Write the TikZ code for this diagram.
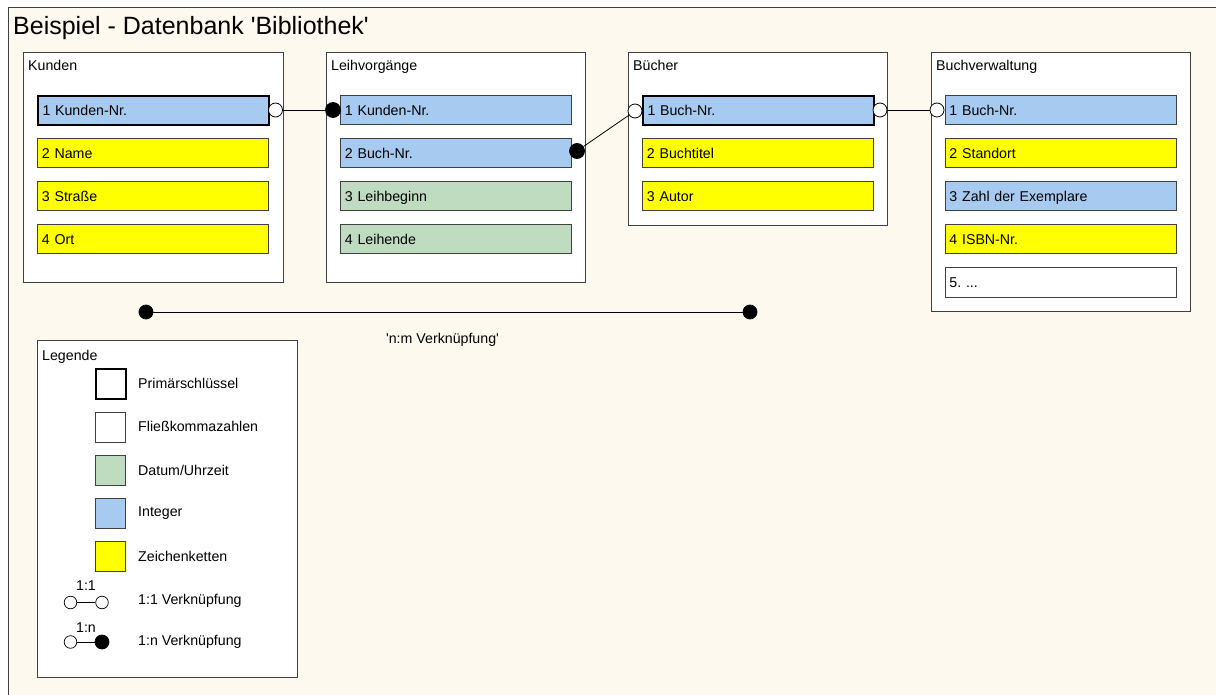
\documentclass[tikz,border=0pt]{standalone}
\usepackage{fontspec}
\setmainfont{Liberation Sans}
\frenchspacing
\definecolor{cream}{RGB}{254,249,238}
\definecolor{intblue}{RGB}{166,202,240}
\definecolor{strylw}{RGB}{255,255,0}
\definecolor{dategrn}{RGB}{192,220,192}
\definecolor{edge}{RGB}{64,64,64}
\begin{document}
\begin{tikzpicture}[x=1pt,y=-1pt,
  every node/.style={font=\fontsize{14.2}{16}\selectfont},
  tablebox/.style={draw=edge,line width=0.9pt,fill=white,anchor=north west,inner sep=0pt},
  tabtitle/.style={anchor=base west,inner sep=0pt},
  field/.style={draw=edge,line width=0.9pt,anchor=north west,minimum width=231pt,minimum height=29pt,
    text width=222pt,align=left,inner xsep=4.5pt,inner ysep=0pt,text height=10pt,text depth=0pt},
  pk/.style={draw=black,line width=2pt},
  intf/.style={field,fill=intblue},
  strf/.style={field,fill=strylw},
  datef/.style={field,fill=dategrn},
  numf/.style={field,fill=white},
  opendot/.style={circle,draw=black,fill=white,line width=0.8pt,minimum size=14pt,inner sep=0pt},
  filldot/.style={circle,draw=black,fill=black,line width=0.8pt,minimum size=15pt,inner sep=0pt},
  sopen/.style={circle,draw=black,fill=white,line width=0.7pt,minimum size=12.6pt,inner sep=0pt},
  sfill/.style={circle,draw=black,fill=black,line width=0.7pt,minimum size=14pt,inner sep=0pt},
  conn/.style={draw=black,line width=0.8pt},
  legsq/.style={draw=edge,line width=0.9pt,anchor=north west,minimum width=30pt,minimum height=30pt,inner sep=0pt},
  leglbl/.style={anchor=west,inner sep=0pt}
]
\useasboundingbox (0,0) rectangle (1216,695);
\fill[white] (0,0) rectangle (1216,695);
\fill[cream] (8,8) rectangle (1216,695);
\draw[edge,line width=1pt] (8,695) -- (8,8) -- (1216,8);
\node[anchor=base west,inner sep=0pt,font=\fontsize{25}{29}\selectfont] (title) at (13,35) {Beispiel - Datenbank \textquotesingle Bibliothek\textquotesingle};

% tables
\node[tablebox,minimum width=260pt,minimum height=230pt] (kunden) at (23,52) {};
\node[tabtitle] (kundenT) at (28,71) {Kunden};
\node[intf,pk] (k1) at (37,95.5) {1 Kunden-Nr.};
\node[strf] (k2) at (37,138.5) {2 Name};
\node[strf] (k3) at (37,181.5) {3 Straße};
\node[strf] (k4) at (37,224.5) {4 Ort};

\node[tablebox,minimum width=259pt,minimum height=230pt] (leih) at (326,52) {};
\node[tabtitle] (leihT) at (331,71) {Leihvorgänge};
\node[intf] (l1) at (340,95.5) {1 Kunden-Nr.};
\node[intf] (l2) at (340,138.5) {2 Buch-Nr.};
\node[datef] (l3) at (340,181.5) {3 Leihbeginn};
\node[datef] (l4) at (340,224.5) {4 Leihende};

\node[tablebox,minimum width=259pt,minimum height=173pt] (buecher) at (628,52) {};
\node[tabtitle] (buecherT) at (633,71) {Bücher};
\node[intf,pk] (b1) at (642,95.5) {1 Buch-Nr.};
\node[strf] (b2) at (642,138.5) {2 Buchtitel};
\node[strf] (b3) at (642,181.5) {3 Autor};

\node[tablebox,minimum width=259pt,minimum height=259pt] (verw) at (931,52) {};
\node[tabtitle] (verwT) at (936,71) {Buchverwaltung};
\node[intf] (v1) at (944.5,95.5) {1 Buch-Nr.};
\node[strf] (v2) at (944.5,138.5) {2 Standort};
\node[intf] (v3) at (944.5,181.5) {3 Zahl der Exemplare};
\node[strf] (v4) at (944.5,224.5) {4 ISBN-Nr.};
\node[numf] (v5) at (944.5,267.5) {5. ...};

% connectors
\node[opendot] (k1o) at (275.5,110) {};
\node[filldot] (l1f) at (333,110) {};
\draw[conn] (k1o) -- (l1f);
\node[filldot] (l2f) at (577,151) {};
\node[opendot] (b1oL) at (635,111) {};
\draw[conn] (l2f) -- (b1oL);
\node[opendot] (b1oR) at (880,110) {};
\node[opendot] (v1o) at (937,110) {};
\draw[conn] (b1oR) -- (v1o);

% n:m
\node[filldot,minimum size=14pt] (nm1) at (146,312) {};
\node[filldot,minimum size=14pt] (nm2) at (750,312) {};
\draw[conn] (nm1) -- (nm2);
\node[inner sep=0pt] (nmlbl) at (442.5,340) {\textquotesingle n:m Verknüpfung\textquotesingle};

% legend
\node[tablebox,minimum width=260pt,minimum height=337pt] (legend) at (37,340) {};
\node[tabtitle] (legendT) at (42,360) {Legende};
\node[legsq,fill=white,draw=black,line width=2pt] (sqpk) at (94.5,368) {};
\node[leglbl] (lpk) at (138,383) {Primärschlüssel};
\node[legsq,fill=white] (sqfl) at (94.5,411.5) {};
\node[leglbl] (lfl) at (138,426.5) {Fließkommazahlen};
\node[legsq,fill=dategrn] (sqdt) at (94.5,455) {};
\node[leglbl] (ldt) at (138,470) {Datum/Uhrzeit};
\node[legsq,fill=intblue] (sqin) at (94.5,498) {};
\node[leglbl] (lin) at (138,513) {Integer};
\node[legsq,fill=strylw] (sqst) at (94.5,541) {};
\node[leglbl] (lst) at (138,556) {Zeichenketten};

\node[inner sep=0pt] (r11) at (86,585.5) {1:1};
\node[sopen] (a11) at (70.5,602.5) {};
\node[sopen] (b11) at (102,602.5) {};
\draw[conn] (a11) -- (b11);
\node[leglbl] (l11) at (138,601) {1:1 Verknüpfung};

\node[inner sep=0pt] (r1n) at (86,628) {1:n};
\node[sopen] (a1n) at (70.5,642) {};
\node[sfill] (b1n) at (102,642) {};
\draw[conn] (a1n) -- (b1n);
\node[leglbl] (l1n) at (138,642) {1:n Verknüpfung};
\end{tikzpicture}
\end{document}
